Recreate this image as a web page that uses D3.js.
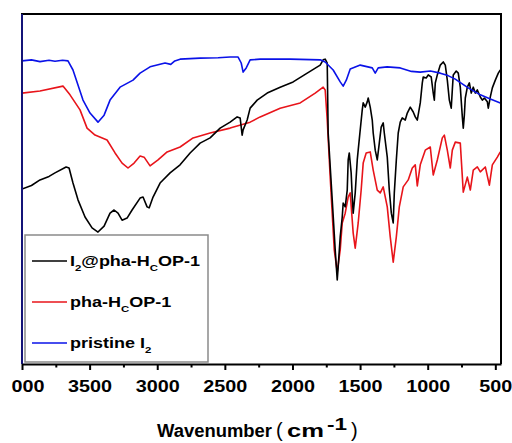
<!DOCTYPE html>
<html><head><meta charset="utf-8">
<script src="https://cdn.jsdelivr.net/npm/d3@7"></script>
<style>body{margin:0;background:#fff;overflow:hidden}</style>
</head><body><svg id="c" width="512" height="443"></svg>
<script>
// ---- data (wavenumber, transmittance a.u.) ----
const tickValues = [4000,3500,3000,2500,2000,1500,1000,500];
const tickLabels = ["000","3500","3000","2500","2000","1500","1000","500"];
const minorTicks = [3750,3250,2750,2250,1750,1250,750];
const seriesNames = ["I2@pha-HcOP-1","pha-HcOP-1","pristine I2"];

const blueWn = [4000,3930,3867,3800,3756,3700,3660,3623,3549,3497,3438,3393,3349,3275,3179,3127,3053,2942,2900,2870,2831,2683,2550,2461,2402,2379,2365,2342,2313,2239,2017,1795,1758,1699,1647,1625,1602,1573,1499,1410,1388,1366,1300,1203,1120,1055,980,907,850,796,750,700,611,537,463];
const blueT  = [86.6,86.9,86.4,86.8,86.5,86.8,86.6,84.0,75.4,71.7,69.1,71.1,75.4,79.1,81.1,83.1,84.9,86.0,85.6,86.6,87.1,87.4,87.5,87.7,87.7,86.0,83.4,84.6,86.9,87.1,87.1,86.9,86.3,84.0,80.6,79.4,81.1,84.3,85.4,84.6,83.1,84.6,84.9,84.6,83.6,83.4,83.7,83.1,82.4,81.4,80.2,78.9,76.9,75.7,74.6];

const redWn = [4000,3867,3697,3645,3571,3519,3460,3371,3312,3260,3216,3171,3127,3097,3053,2994,2927,2831,2735,2609,2461,2313,2239,2091,1943,1832,1773,1758,1743,1721,1691,1669,1647,1632,1610,1588,1573,1551,1536,1514,1492,1477,1455,1425,1403,1373,1351,1329,1299,1277,1255,1232,1210,1181,1144,1114,1092,1077,1055,1018,981,959,929,892,877,855,833,818,796,759,737,707,685,663,633,611,574,544,522,485,463];
const redT  = [77.4,78.0,79.4,76.9,72.6,67.4,65.4,64.0,60.3,57.4,56.0,57.4,59.4,59.1,56.6,58.3,60.6,62.0,64.6,66.0,67.4,69.1,70.6,73.1,74.6,77.4,79.1,78.3,69.7,53.4,32.6,26.3,32.6,40.3,43.1,47.7,48.9,37.4,33.1,40.3,49.7,57.4,60.3,60.6,55.4,49.7,48.9,50.6,44.9,36.3,29.1,36.3,44.9,50.6,52.6,56.0,56.9,50.9,56.9,61.1,62.0,54.0,58.3,64.6,65.4,61.1,56.0,61.1,63.4,63.1,49.1,53.4,49.7,55.4,56.3,54.9,56.3,51.1,56.9,59.1,60.6];

const blackWn = [4000,3930,3867,3800,3756,3674,3652,3623,3586,3534,3482,3438,3393,3349,3319,3290,3260,3223,3186,3127,3105,3075,3060,3031,2979,2905,2831,2757,2683,2609,2535,2461,2409,2387,2372,2365,2335,2313,2261,2187,2091,1995,1891,1795,1773,1758,1743,1736,1706,1684,1669,1662,1647,1632,1625,1610,1595,1588,1580,1566,1558,1551,1536,1521,1514,1499,1484,1477,1462,1447,1440,1425,1410,1403,1388,1373,1358,1344,1329,1321,1299,1284,1269,1255,1247,1232,1218,1203,1188,1166,1151,1129,1107,1092,1077,1055,1040,1033,1011,996,974,959,951,944,929,907,885,870,855,840,826,818,811,789,774,759,744,737,729,722,707,692,678,663,648,633,611,596,581,559,552,537,522,500,478,463];
const blackT  = [50.0,51.0,52.6,53.6,54.6,56.3,56.0,51.7,46.9,42.0,38.9,37.7,39.4,43.1,44.0,43.1,41.1,41.7,44.0,47.4,47.7,44.9,44.6,47.7,51.7,54.6,56.9,60.3,63.1,64.6,67.4,69.1,70.6,70.3,65.4,66.9,69.7,73.1,75.4,77.4,79.1,80.6,83.1,85.4,86.9,87.1,86.0,66.0,46.9,32.6,24.0,27.7,36.3,42.0,46.0,44.9,49.7,58.3,60.3,54.6,47.7,43.1,48.9,58.3,61.1,66.9,72.6,74.6,73.4,74.9,76.0,73.4,69.7,66.0,61.1,58.3,63.1,67.7,68.9,66.0,59.1,49.7,43.1,40.3,48.9,58.3,66.0,69.1,70.3,69.7,71.7,73.4,72.0,70.6,69.7,74.6,80.3,82.0,81.7,82.6,82.0,77.4,75.4,80.3,82.6,85.4,86.3,85.4,81.1,75.4,73.1,78.3,82.6,83.7,83.1,79.1,70.6,67.4,71.1,76.0,79.1,80.3,77.4,79.1,77.4,78.3,76.3,75.4,76.0,74.9,73.1,76.3,78.9,81.1,83.1,84.0];

// ---- chart ----
const svg = d3.select("#c");
const L = 22, R = 501, T = 14, B = 364;
const x = d3.scaleLinear().domain([4000, 458]).range([L, R]);
const y = d3.scaleLinear().domain([0, 100]).range([B, T]);
const font = "'Liberation Sans', Arial, Helvetica, sans-serif";

const line = d3.line().x(d => x(d[0])).y(d => y(d[1]));
const series = [
  {wn: redWn, t: redT, color: "#e8141a"},
  {wn: blackWn, t: blackT, color: "#000000"},
  {wn: blueWn, t: blueT, color: "#0a12e8"}
];
svg.append("defs").append("clipPath").attr("id","clip")
  .append("rect").attr("x",L).attr("y",T).attr("width",R-L).attr("height",B-T);
const g = svg.append("g").attr("clip-path","url(#clip)");
series.forEach(s => {
  g.append("path").datum(s.wn.map((w,i)=>[w, s.t[i]]))
    .attr("d", line).attr("fill","none").attr("stroke", s.color)
    .attr("stroke-width", 1.6).attr("stroke-linejoin","round");
});

// frame
svg.append("line").attr("x1",L-1).attr("x2",R+1).attr("y1",T).attr("y2",T).attr("stroke","#000").attr("stroke-width",2);
svg.append("line").attr("x1",R).attr("x2",R).attr("y1",T).attr("y2",B).attr("stroke","#000").attr("stroke-width",2);
svg.append("line").attr("x1",L).attr("x2",L).attr("y1",T).attr("y2",B).attr("stroke","#141478").attr("stroke-width",2);

// bottom axis
const ax = svg.append("g").attr("transform",`translate(0,${B})`)
  .call(d3.axisBottom(x).tickValues(tickValues).tickSizeInner(6).tickSizeOuter(0)
        .tickFormat((d,i)=>tickLabels[i]));
ax.select(".domain").attr("stroke","#000").attr("stroke-width",2);
ax.selectAll(".tick line").attr("stroke","#000").attr("stroke-width",2);
ax.selectAll(".tick text")
  .attr("font-family",font).attr("font-weight","bold").attr("font-size",16.5)
  .attr("fill","#000").attr("y",16).attr("transform","scale(1.2,1)");
ax.selectAll(".tick text").filter((d,i)=>i===0).attr("text-anchor","start").attr("x",-9.2);
svg.append("g").attr("transform",`translate(0,${B})`)
  .call(d3.axisBottom(x).tickValues(minorTicks).tickSizeInner(3.5).tickSizeOuter(0).tickFormat(""))
  .call(gg => { gg.select(".domain").remove(); gg.selectAll(".tick line").attr("stroke","#000").attr("stroke-width",2); });

// axis title, pieces placed to match the reference spacing
const tg = svg.append("g").attr("font-family",font).attr("font-weight","bold").attr("fill","#000");
tg.append("text").attr("x",157).attr("y",437).attr("font-size",18)
  .attr("textLength",115).attr("lengthAdjust","spacingAndGlyphs").text("Wavenumber");
tg.append("text").attr("x",276).attr("y",437).attr("font-size",20).attr("font-weight","normal").text("(");
tg.append("text").attr("x",287).attr("y",437).attr("font-size",18)
  .attr("textLength",37).attr("lengthAdjust","spacingAndGlyphs").text("cm");
tg.append("text").attr("x",327).attr("y",430).attr("font-size",16)
  .attr("textLength",20).attr("lengthAdjust","spacingAndGlyphs").text("-1");
tg.append("text").attr("x",351).attr("y",437).attr("font-size",20).attr("font-weight","normal").text(")");

// legend
svg.append("rect").attr("x",25).attr("y",235).attr("width",183).attr("height",127)
  .attr("fill","#fff").attr("stroke","#8a8a8a").attr("stroke-width",1.5);
const legendColors = ["#000000","#e8141a","#0a12e8"];
const legendY = [261, 302, 343];
seriesNames.forEach((nm,i) => {
  svg.append("line").attr("x1",32).attr("x2",67).attr("y1",legendY[i]).attr("y2",legendY[i])
    .attr("stroke",legendColors[i]).attr("stroke-width",1.6);
  const t = svg.append("text").attr("font-family",font).attr("font-weight","bold")
    .attr("font-size",15).attr("fill","#000")
    .attr("transform",`translate(70,${legendY[i]+5}) scale(1.2,1)`);
  const parts = nm.split(/(I2|Hc)/).filter(p=>p.length);
  let pendingDy = 0;
  parts.forEach(p => {
    if (p === "I2" || p === "Hc") {
      t.append("tspan").attr("dy", pendingDy).text(p[0]);
      t.append("tspan").attr("font-size",9.5).attr("dy",5).text(p === "I2" ? "2" : "C");
      pendingDy = -5;
    } else {
      t.append("tspan").attr("dy", pendingDy).text(p);
      pendingDy = 0;
    }
  });
});
</script></body></html>
